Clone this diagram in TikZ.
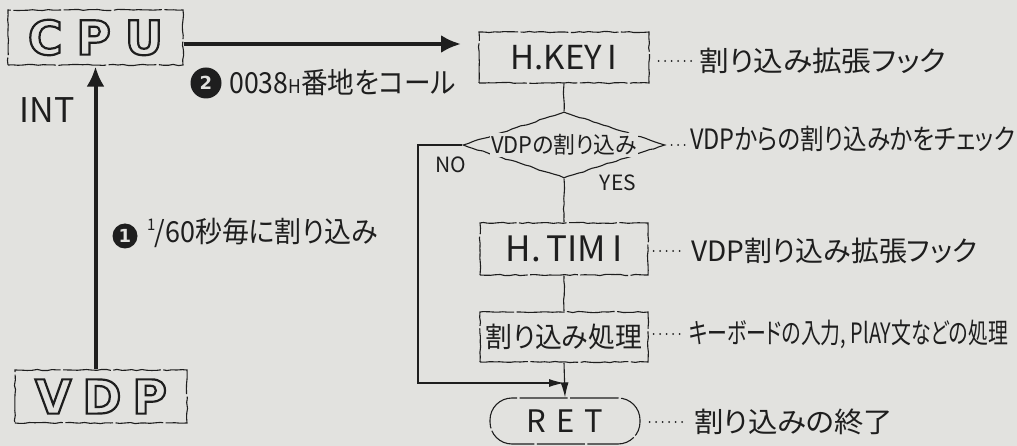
\documentclass[tikz,border=0pt]{standalone}
\usepackage{fontspec}
\setmainfont{Noto Sans CJK JP}[RawFeature=+palt]
\newfontfamily\bigfont{DejaVu Sans}
\usetikzlibrary{arrows.meta}
\usetikzlibrary{shapes.geometric}
\usetikzlibrary{decorations.pathmorphing}

\definecolor{paper}{RGB}{226,226,223}
\definecolor{ink}{RGB}{30,30,30}
\newcommand{\hollow}[1]{\special{pdf:literal direct 1 Tr 2.2 w}#1\special{pdf:literal direct 0 Tr}}
\newcommand{\squeeze}[2]{\scalebox{#1}[1]{#2}}

\begin{document}
\begin{tikzpicture}[x=1pt,y=-1pt,>=Latex,
        hand/.style={decorate,decoration={random steps,segment length=5pt,amplitude=0.6pt}},
        edge/.style={draw=ink,line width=1.1pt,dash pattern=on 48pt off 2.5pt,inner sep=0pt,text=ink},
        box/.style={edge,hand},
        flow/.style={draw=ink,line width=1.1pt,hand},
        bus/.style={draw=ink,line width=4pt,-{Latex[length=20pt,width=18pt]}},
        loop/.style={draw=ink,line width=1.1pt,-{Latex[length=15pt,width=8pt]}},
        leader/.style={draw=ink,line width=2pt,line cap=round,dash pattern=on 0pt off 6.5pt},
        note/.style={anchor=west,text=ink,inner sep=0pt,font=\fontsize{28}{28}\selectfont},
        tag/.style={text=ink,inner sep=0pt},
        badge/.style={circle,fill=ink,text=paper,inner sep=0pt,font=\bigfont\bfseries\fontsize{18}{18}\selectfont},
        letters/.style={font=\bigfont\bfseries\fontsize{47}{47}\selectfont}]
    \pgfmathsetseed{7}
    \fill[paper] (0,0) rectangle (1017,446);
    \useasboundingbox (0,0) rectangle (1017,446);

    \node[box,letters,minimum width=175pt,minimum height=55pt] (cpu) at (95.5,37.5) {\hollow{C\hspace{14pt}P\hspace{14pt}U}};
    \node[box,letters,minimum width=172pt,minimum height=53pt] (vdp) at (101,396.5) {\hollow{V\hspace{11pt}D\hspace{11pt}P}};
    \node[tag,font=\fontsize{34}{34}\selectfont] (int) at (47,110) {INT};
    \node[badge,minimum size=25pt] (one) at (125,236) {1};
    \node[tag,anchor=west,font=\fontsize{29}{29}\selectfont] (oneText) at (147,233) {\squeeze{0.93}{\raisebox{.42em}{\fontsize{16}{16}\selectfont 1}\kern-1pt/60秒毎に割り込み}};
    \node[badge,minimum size=31pt] (two) at (206,83) {2};
    \node[tag,anchor=west,font=\fontsize{29}{29}\selectfont] (twoText) at (229,82) {\squeeze{0.92}{0038{\fontsize{19}{19}\selectfont H}番地をコール}};
    \coordinate (busEnd) at (461,44);
    \draw[bus] (cpu.east |- busEnd) -- (busEnd);
    \draw[bus,shorten >=1pt] (vdp.north -| cpu.south) -- (cpu.south);

    \node[box,minimum width=170pt,minimum height=51pt,font=\fontsize{33}{33}\selectfont] (hkey) at (564,57.5) {H.KEY\,I};
    \node[diamond,draw=ink,line width=1.1pt,hand,minimum width=202pt,minimum height=66pt,inner sep=0pt] (dia) at (564,145) {};
    \node[fill=paper,text=ink,inner sep=1pt,font=\fontsize{23}{23}\selectfont] (diaText) at (dia.center) {\squeeze{0.95}{VDPの割り込み}};
    \node[tag,font=\fontsize{21}{21}\selectfont] (no) at (451,165) {NO};
    \node[tag,font=\fontsize{21}{21}\selectfont] (yes) at (618,183) {YES};
    \node[box,minimum width=168pt,minimum height=52pt,font=\fontsize{35}{35}\selectfont] (htim) at (564,249) {H.\,TIM\,I};
    \node[box,minimum width=168pt,minimum height=50pt,font=\fontsize{28}{28}\selectfont] (proc) at (564,337) {\squeeze{0.96}{割り込み処理}};
    \node[edge,rounded corners=22pt,minimum width=150pt,minimum height=46pt,font=\fontsize{31}{31}\selectfont] (ret) at (565,421) {R\hspace{10pt}E\hspace{10pt}T};

    \draw[flow] (hkey.south) -- (dia.north);
    \draw[flow] (dia.south) -- (htim.north);
    \draw[flow] (htim.south) -- (proc.north);
    \draw[loop] (proc.south) -- (ret.north);
    \coordinate (noTop) at (418,145);
    \coordinate (noBot) at (418,383);
    \draw[loop] (dia.west) -- (noTop) -- (noBot) -- (noBot -| proc.south);

    \node[note] (nkey) at (699,61) {\squeeze{1.06}{割り込み拡張フック}};
    \node[note] (ndia) at (690,139) {\squeeze{0.84}{VDPからの割り込みかをチェック}};
    \node[note] (ntim) at (691,251) {\squeeze{1.0}{VDP割り込み拡張フック}};
    \node[note] (nproc) at (689,334) {\squeeze{0.71}{キーボードの入力, PlAY文などの処理}};
    \node[note] (nret) at (694,422) {\squeeze{1.05}{割り込みの終了}};
    \draw[leader,shorten <=9pt,shorten >=6pt] (hkey.east |- nkey.west) -- (nkey.west);
    \draw[leader,shorten <=6pt,shorten >=4pt] (dia.east) -- (ndia.west |- dia.east);
    \draw[leader,shorten <=5pt,shorten >=5pt] (htim.east |- ntim.west) -- (ntim.west);
    \draw[leader,shorten <=5pt,shorten >=4pt] (proc.east |- nproc.west) -- (nproc.west);
    \draw[leader,shorten <=9pt,shorten >=6pt] (ret.east |- nret.west) -- (nret.west);
\end{tikzpicture}
\end{document}
